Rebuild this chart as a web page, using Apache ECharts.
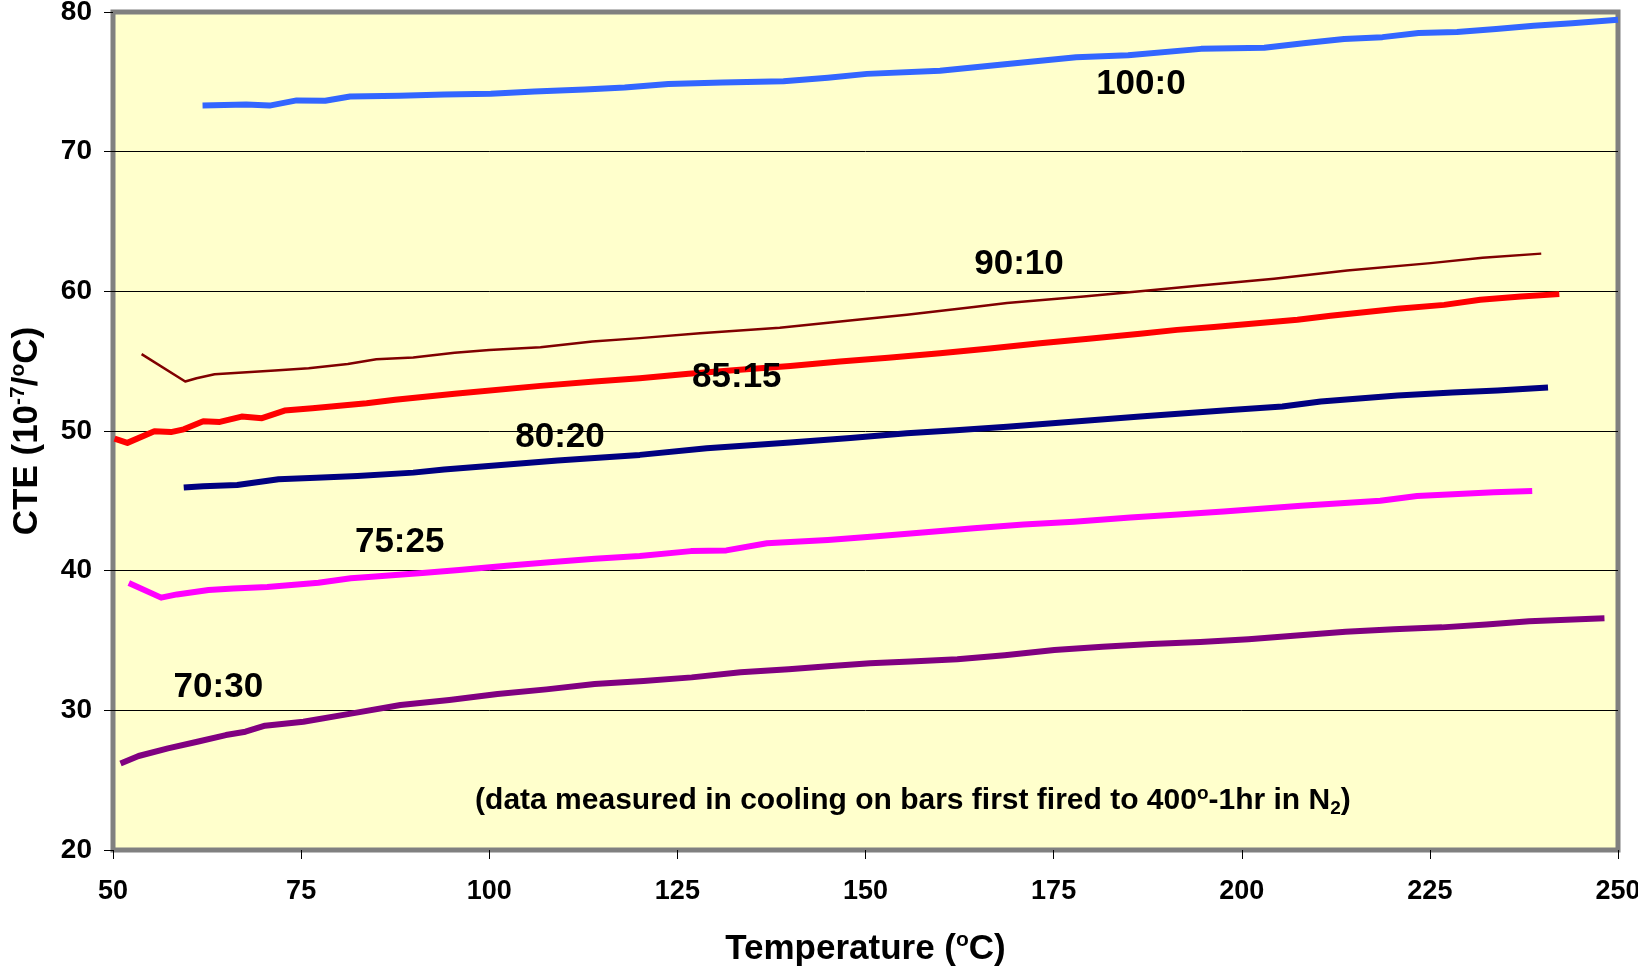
<!DOCTYPE html>
<html lang="en">
<head>
<meta charset="UTF-8">
<title>CTE vs Temperature</title>
<script src="https://cdn.jsdelivr.net/npm/echarts@6/dist/echarts.min.js"></script>
<style>
    html, body {
        margin: 0;
        padding: 0;
        background: #ffffff;
    }
    #chart {
        width: 1638px;
        height: 966px;
    }
</style>
</head>
<body>
<div id="chart"></div>
<script>
    // axis ticks
    var xTicks = [50, 75, 100, 125, 150, 175, 200, 225, 250];
    var yTicks = [20, 30, 40, 50, 60, 70, 80];
    var gridValues = [30, 40, 50, 60, 70];

    // 100:0
    var t100 = [61.9, 67.7, 70.8, 74.4, 78.2, 81.5, 88.1, 94, 100.2, 106, 112.7, 118, 123.8, 131, 139.1, 145, 150.2, 159.9, 168.2, 178, 184.9, 194.6, 203, 208.5, 213.6, 218.7, 223.5, 228.6, 233.8, 238.8, 243.9, 250];
    var cte100 = [73.3, 73.38, 73.3, 73.67, 73.65, 73.95, 74.0, 74.1, 74.15, 74.3, 74.45, 74.6, 74.85, 74.95, 75.04, 75.3, 75.57, 75.8, 76.24, 76.76, 76.91, 77.36, 77.44, 77.78, 78.07, 78.2, 78.5, 78.57, 78.78, 79.02, 79.2, 79.45];

    // 90:10
    var t90 = [53.8, 59.6, 61.1, 63.5, 71.5, 76, 81.2, 85, 89.9, 95.4, 100, 106.8, 113.7, 120, 128, 138.6, 148.9, 155.5, 164.4, 168.8, 179, 186.5, 194.1, 204.3, 214, 225.1, 232, 239.8];
    var cte90 = [55.5, 53.54, 53.78, 54.07, 54.33, 54.5, 54.8, 55.14, 55.26, 55.6, 55.8, 56.0, 56.4, 56.65, 57.0, 57.4, 57.96, 58.32, 58.87, 59.16, 59.63, 60.0, 60.4, 60.9, 61.49, 62.02, 62.4, 62.7];

    // 85:15
    var t85 = [50.2, 51.9, 55.5, 57.7, 59.4, 62, 64.2, 67.1, 69.8, 72.8, 76.5, 83.7, 87.5, 95.4, 106.8, 114, 120, 126.5, 133.3, 140, 146.6, 153, 159.9, 166.5, 173.2, 180, 186.5, 191.4, 196.3, 207.4, 211.8, 220.7, 226.9, 231.7, 237.1, 242.2];
    var cte85 = [49.45, 49.15, 49.98, 49.92, 50.12, 50.7, 50.65, 51.03, 50.92, 51.46, 51.63, 51.99, 52.23, 52.66, 53.23, 53.55, 53.78, 54.1, 54.38, 54.65, 54.97, 55.25, 55.57, 55.9, 56.29, 56.62, 56.96, 57.24, 57.44, 57.96, 58.25, 58.75, 59.03, 59.4, 59.63, 59.8];

    // 80:20
    var t80 = [59.4, 62, 66.5, 72, 77, 82.5, 89.9, 94, 99.9, 109.1, 115, 120, 128.9, 140, 148, 155.5, 162, 168.8, 177, 186.5, 198.5, 205.4, 210.5, 220.7, 228, 234, 240.7];
    var cte80 = [45.95, 46.05, 46.14, 46.55, 46.65, 46.78, 47.02, 47.25, 47.5, 47.88, 48.1, 48.29, 48.77, 49.17, 49.5, 49.84, 50.05, 50.31, 50.65, 51.03, 51.51, 51.75, 52.11, 52.54, 52.75, 52.9, 53.11];

    // 75:25
    var t75 = [52.1, 56.4, 58.5, 62.7, 66, 70.5, 77.3, 81.6, 84.4, 91.1, 96, 102.3, 108, 114, 120, 126.8, 131.5, 136.9, 145, 151.1, 158, 164.4, 171, 177.7, 185.2, 191, 197.6, 207.9, 218.4, 223.3, 233.5, 238.6];
    var cte75 = [39.12, 38.07, 38.3, 38.62, 38.72, 38.83, 39.14, 39.45, 39.57, 39.83, 40.05, 40.35, 40.6, 40.85, 41.05, 41.4, 41.45, 41.96, 42.2, 42.44, 42.75, 43.04, 43.3, 43.51, 43.8, 44.0, 44.23, 44.64, 45.01, 45.35, 45.61, 45.7];

    // 70:30
    var t70 = [51, 53.4, 57.3, 61.2, 65, 67.6, 70.2, 75.3, 81.8, 88.2, 94.7, 101.1, 107.6, 114, 120.5, 126.9, 133.4, 139.8, 145, 150.6, 156, 162.2, 168.5, 175.1, 181.5, 188, 194.5, 200.9, 207.3, 213.8, 220.2, 226.6, 232.5, 238.2, 248.2];
    var cte70 = [26.2, 26.73, 27.28, 27.75, 28.23, 28.47, 28.9, 29.18, 29.78, 30.38, 30.74, 31.17, 31.5, 31.88, 32.1, 32.36, 32.72, 32.94, 33.15, 33.37, 33.5, 33.65, 33.95, 34.32, 34.55, 34.75, 34.9, 35.09, 35.35, 35.63, 35.8, 35.94, 36.15, 36.38, 36.59];

    // curve labels (placed in data units)
    var labelNames = ['100:0', '90:10', '85:15', '80:20', '75:25', '70:30'];
    var labelT = [186.6, 170.4, 132.9, 109.4, 88.1, 64.0];
    var labelCte = [74.82, 61.95, 53.87, 49.53, 42.04, 31.64];

    var noteText = '(data measured in cooling on bars first fired to 400{sup|o}-1hr in N{sub|2})';
    var notePos = [156.3, 23.5];

    var FONT = '"Liberation Sans", Arial, sans-serif';

    function zip(xs, ys) {
        return xs.map(function (x, i) { return [x, ys[i]]; });
    }

    function lineSeries(name, xs, ys, color, width, z) {
        return {
            name: name,
            type: 'line',
            data: zip(xs, ys),
            symbol: 'none',
            smooth: false,
            silent: true,
            z: z,
            lineStyle: { color: color, width: width, cap: 'butt', join: 'round' }
        };
    }

    // text-only series: invisible symbol, label carries the text
    function textSeries(data, label) {
        label.show = true;
        label.position = 'inside';
        label.color = '#000000';
        label.opacity = 1;
        label.textBorderWidth = 0;
        label.fontWeight = 'bold';
        label.fontFamily = FONT;
        return {
            type: 'scatter',
            silent: true,
            z: 5,
            symbol: 'rect',
            symbolSize: 1,
            itemStyle: { color: '#FFFFCC', opacity: 0 },
            emphasis: { disabled: true },
            data: data,
            label: label
        };
    }

    var chart = echarts.init(document.getElementById('chart'));

    var blue = lineSeries('100:0', t100, cte100, '#3366FF', 6, 3);
    // horizontal gridlines drawn under the curves
    blue.markLine = {
        silent: true,
        symbol: 'none',
        z: 1,
        label: { show: false },
        lineStyle: { color: '#000000', width: 1, type: 'solid' },
        data: gridValues.map(function (v) { return { yAxis: v }; })
    };

    var supStyle = { fontSize: 21, fontWeight: 'bold', color: '#000', verticalAlign: 'top', lineHeight: 22, fontFamily: FONT };

    chart.setOption({
        animation: false,
        backgroundColor: '#ffffff',
        textStyle: { fontFamily: FONT },
        grid: {
            left: 113,
            right: 20,
            top: 12,
            bottom: 116,
            containLabel: false,
            outerBoundsMode: 'none',
            show: true,
            backgroundColor: '#FFFFCC',
            borderColor: '#808080',
            borderWidth: 5
        },
        xAxis: {
            type: 'value',
            min: xTicks[0],
            max: xTicks[xTicks.length - 1],
            interval: 25,
            axisLine: { show: false },
            axisTick: { show: true, length: 9, lineStyle: { color: '#000', width: 1 } },
            splitLine: { show: false },
            axisLabel: { color: '#000', fontWeight: 'bold', fontSize: 27, margin: 28, fontFamily: FONT },
            name: 'Temperature ({sup|o}C)',
            nameLocation: 'middle',
            nameGap: 80,
            nameTextStyle: {
                color: '#000', fontWeight: 'bold', fontSize: 35, fontFamily: FONT, lineHeight: 38,
                rich: { sup: supStyle }
            }
        },
        yAxis: {
            type: 'value',
            min: yTicks[0],
            max: yTicks[yTicks.length - 1],
            interval: 10,
            axisLine: { show: false },
            axisTick: { show: true, length: 9, lineStyle: { color: '#000', width: 1 } },
            splitLine: { show: false },
            axisLabel: { color: '#000', fontWeight: 'bold', fontSize: 28, margin: 21, fontFamily: FONT },
            name: 'CTE (10{sup|-7}/{sup|o}C)',
            nameLocation: 'middle',
            nameRotate: 90,
            nameGap: 67,
            nameTextStyle: {
                color: '#000', fontWeight: 'bold', fontSize: 35, fontFamily: FONT, lineHeight: 38,
                rich: { sup: supStyle }
            }
        },
        series: [
            blue,
            lineSeries('90:10', t90, cte90, '#800000', 2.5, 4),
            lineSeries('85:15', t85, cte85, '#FF0000', 6, 4),
            lineSeries('80:20', t80, cte80, '#000080', 6, 4),
            lineSeries('75:25', t75, cte75, '#FF00FF', 6, 4),
            lineSeries('70:30', t70, cte70, '#800080', 6, 4),
            textSeries(
                labelNames.map(function (n, i) { return [labelT[i], labelCte[i], n]; }),
                {
                    formatter: function (p) { return p.data[2]; },
                    fontSize: 35
                }
            ),
            textSeries([notePos], {
                formatter: noteText,
                fontSize: 30,
                lineHeight: 34,
                rich: {
                    sup: { fontSize: 19, fontWeight: 'bold', color: '#000', verticalAlign: 'top', lineHeight: 19, fontFamily: FONT },
                    sub: { fontSize: 19, fontWeight: 'bold', color: '#000', verticalAlign: 'bottom', lineHeight: 19, fontFamily: FONT }
                }
            })
        ]
    });
</script>
</body>
</html>
